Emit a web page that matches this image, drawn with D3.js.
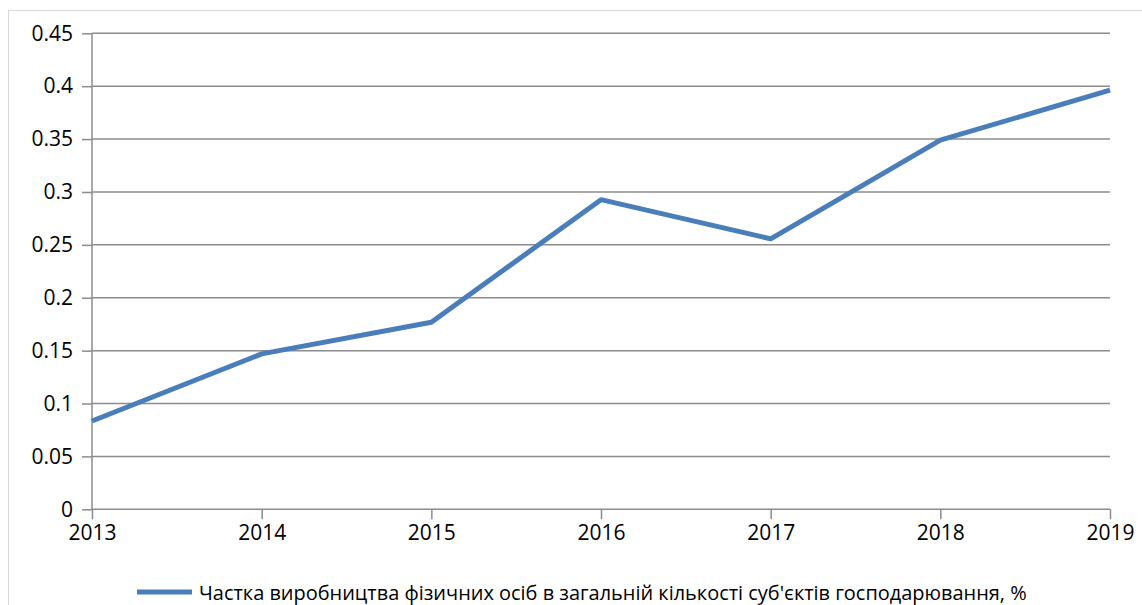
<!DOCTYPE html>
<html><head><meta charset="utf-8">
<script src="https://cdn.jsdelivr.net/npm/d3@7"></script>
<style>body{margin:0;background:#fff}svg{display:block}</style>
</head><body>
<script>
const years = ["2013","2014","2015","2016","2017","2018","2019"];
const values = [0.0835, 0.1469, 0.1768, 0.2927, 0.2557, 0.349, 0.3963];
const yTicks = [0,0.05,0.1,0.15,0.2,0.25,0.3,0.35,0.4,0.45];
const seriesName = "Частка виробництва фізичних осіб в загальній кількості суб'єктів господарювання, %";

const W=1142,H=605;
const svg=d3.select("body").append("svg").attr("width",W).attr("height",H);
svg.append("rect").attr("x",8.5).attr("y",10.5).attr("width",W).attr("height",H)
  .attr("fill","#fff").attr("stroke","#d9d9d9");

const x=d3.scalePoint().domain(years).range([92,1110]);
const y=d3.scaleLinear().domain([0,0.45]).range([509.3,33.3]);
const font="'Open Sans', sans-serif";

// gridlines
svg.append("g").selectAll("line").data(yTicks.filter(d=>d>0)).join("line")
  .attr("x1",92).attr("x2",1110).attr("y1",d=>y(d)).attr("y2",d=>y(d))
  .attr("stroke","#8c8c8c").attr("stroke-width",1.5);

// y axis
const ya=svg.append("g").attr("transform","translate(92,0)")
  .call(d3.axisLeft(y).tickValues(yTicks).tickSize(10).tickPadding(9).tickFormat(d=>String(+d.toFixed(2))));
ya.select(".domain").attr("stroke","#8c8c8c").attr("stroke-width",1.5).attr("d","M0,33.3V509.3");
ya.selectAll(".tick line").attr("stroke","#8c8c8c").attr("stroke-width",1.5);
ya.selectAll("text").attr("font-family",font).attr("font-size",21).attr("fill","#000");

// x axis
const xa=svg.append("g").attr("transform","translate(0,509.3)")
  .call(d3.axisBottom(x).tickSize(10).tickPadding(6));
xa.select(".domain").attr("stroke","#8c8c8c").attr("stroke-width",1.5).attr("d","M92,0H1110");
xa.selectAll(".tick line").attr("stroke","#8c8c8c").attr("stroke-width",1.5);
xa.selectAll("text").attr("font-family",font).attr("font-size",21).attr("fill","#000");

// line
svg.append("path").datum(values)
  .attr("d",d3.line().x((d,i)=>x(years[i])).y(d=>y(d)))
  .attr("fill","none").attr("stroke","#4a7ebb").attr("stroke-width",5)
  .attr("stroke-linejoin","round").attr("stroke-linecap","butt");

// legend
svg.append("line").attr("x1",137).attr("x2",192).attr("y1",592).attr("y2",592)
  .attr("stroke","#4a7ebb").attr("stroke-width",5);
const lt=svg.append("text").attr("x",199).attr("y",599.5)
  .attr("font-family",font).attr("font-size",20).attr("fill","#000").text(seriesName);
const w=lt.node().getComputedTextLength();
lt.attr("font-size",20*828/w);
</script>
</body></html>
